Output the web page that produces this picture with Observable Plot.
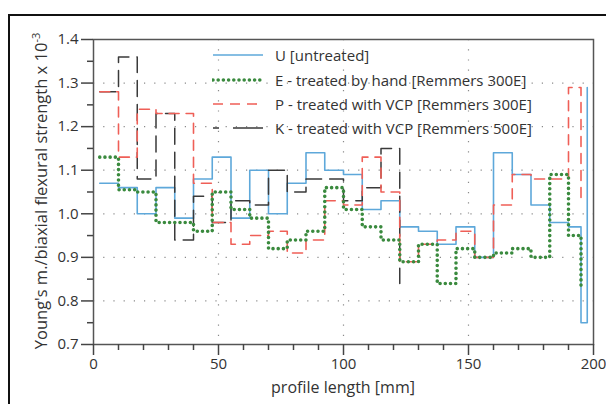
<!DOCTYPE html>
<html>
<head>
<meta charset="utf-8">
<script src="https://cdn.jsdelivr.net/npm/d3@7"></script>
<script src="https://cdn.jsdelivr.net/npm/@observablehq/plot@0.6"></script>
<style>
  html, body { margin: 0; padding: 0; background: #fff; }
  #wrap { position: relative; width: 606px; height: 404px; overflow: hidden; font-family: "Open Sans", sans-serif; color: #333; }
  #frame { position: absolute; left: 8px; top: 14px; width: 620px; height: 420px; border-left: 2px solid #111; border-top: 2px solid #111; }
  #chart { position: absolute; left: 0; top: 0; }
  #ylabel { position: absolute; left: 40px; top: 191px; transform: translate(-50%, -50%) rotate(-90deg); white-space: nowrap; font-size: 16.5px; line-height: 1; color: #333; }
  #ylabel sup { font-size: 11px; vertical-align: 7px; }
  #xlabel { position: absolute; left: 343px; top: 378px; transform: translateX(-50%); white-space: nowrap; font-size: 16px; line-height: 1.2; color: #333; }
  .lg { position: absolute; left: 212px; height: 20px; display: flex; align-items: center; white-space: nowrap; font-size: 15px; color: #333; }
  .lg svg { width: 52px; height: 10px; margin-right: 11px; }
</style>
</head>
<body>
<div id="wrap">
  <div id="frame"></div>
  <div id="chart"></div>
  <div id="ylabel">Young's m./biaxial flexural strength x 10<sup>-3</sup></div>
  <div id="xlabel">profile length [mm]</div>
  <div id="legend"></div>
</div>
<script>
// bin start positions along the profile [mm]
const binStart = [2.5, 10, 17.5, 25, 32.5, 40, 47.5, 55, 62.5, 70, 77.5, 85, 92.5, 100, 107.5, 115, 122.5, 130, 137.5, 145, 152.5, 160, 167.5, 175, 182.5, 190, 195, 197.5];

// U [untreated]
const valuesU = [1.07, 1.06, 1.00, 1.06, 0.99, 1.08, 1.13, 0.99, 1.10, 1.00, 1.07, 1.14, 1.10, 1.09, 1.01, 1.03, 0.97, 0.96, 0.93, 0.97, 0.90, 1.14, 1.09, 1.02, 0.98, 0.97, 0.75, 1.29];
// E - treated by hand
const valuesE = [1.13, 1.055, 1.05, 0.98, 0.98, 0.96, 1.05, 1.01, 0.99, 0.92, 0.94, 0.96, 1.06, 1.01, 0.97, 0.94, 0.89, 0.93, 0.84, 0.92, 0.90, 0.91, 0.92, 0.90, 1.09, 0.95, 0.83];
// P - treated with VCP [Remmers 300E]
const valuesP = [1.28, 1.13, 1.24, 1.23, 1.23, 1.07, 0.98, 0.93, 0.95, 0.96, 0.91, 0.94, 1.03, 1.02, 1.13, 1.05, 0.89, 0.93, 0.94, 0.96, 0.90, 1.02, 1.09, 1.08, 1.08, 1.29, 1.03];
// K - treated with VCP [Remmers 500E]
const valuesK = [1.28, 1.36, 1.08, 1.23, 0.94, 1.04, 0.98, 1.03, 1.02, 1.10, 1.05, 1.08, 1.08, 1.03, 1.06, 1.15, 0.84];

const seriesNames = ["U [untreated]", "E - treated by hand [Remmers 300E]", "P - treated with VCP [Remmers 300E]", "K - treated with VCP [Remmers 500E]"];

const xMajorTicks = [0, 50, 100, 150, 200];
const xMinorTicks = [10, 20, 30, 40, 60, 70, 80, 90, 110, 120, 130, 140, 160, 170, 180, 190];
const yMajorTicks = [0.7, 0.8, 0.9, 1.0, 1.1, 1.2, 1.3, 1.4];
const yMinorTicks = [0.75, 0.85, 0.95, 1.05, 1.15, 1.25, 1.35];
const yGrid = [0.8, 0.9, 1.0, 1.1, 1.2, 1.3];
const xGrid = [50, 100, 150];

const styles = [
  {stroke: "#5ea8da", strokeWidth: 1.6},
  {stroke: "#3a8a3e", strokeWidth: 3.6, strokeDasharray: "0 5.2", strokeLinecap: "round"},
  {stroke: "#ef5f57", strokeWidth: 1.6, strokeDasharray: "10 7"},
  {stroke: "#3a3a3a", strokeWidth: 1.5, strokeDasharray: "16 8"}
];

const toPts = (vals) => vals.map((v, i) => ({x: binStart[i], y: v}));
const data = [toPts(valuesU), toPts(valuesE), toPts(valuesP), toPts(valuesK)];
const order = [0, 3, 2, 1];

const plot = Plot.plot({
  width: 606,
  height: 404,
  marginLeft: 93,
  marginRight: 13,
  marginTop: 39,
  marginBottom: 60,
  x: {domain: [0, 200]},
  y: {domain: [0.7, 1.4]},
  style: {fontFamily: "Open Sans, sans-serif", fontSize: "15px", color: "#333", background: "transparent"},
  marks: [
    Plot.ruleY(yGrid, {stroke: "#8a8a8a", strokeWidth: 1.2, strokeDasharray: "1.2 9"}),
    Plot.ruleX(xGrid, {stroke: "#8a8a8a", strokeWidth: 1.2, strokeDasharray: "1.2 9"}),
    ...order.map(i => Plot.line(data[i], {x: "x", y: "y", curve: "step-after", ...styles[i]})),
    Plot.frame({stroke: "#555", strokeWidth: 1.5}),
    Plot.axisX(xMajorTicks, {tickSize: 11, tickPadding: 3, fontSize: 15, label: null, stroke: "#444", strokeWidth: 1.5}),
    Plot.axisX(xMinorTicks, {tickSize: 6, tickFormat: () => "", label: null, stroke: "#444", strokeWidth: 1.5}),
    Plot.axisY(yMajorTicks, {tickSize: 12, tickPadding: 3, fontSize: 15, tickFormat: d3.format(".1f"), label: null, stroke: "#444", strokeWidth: 1.5}),
    Plot.axisY(yMinorTicks, {tickSize: 6, tickFormat: () => "", label: null, stroke: "#444", strokeWidth: 1.5})
  ]
});
document.getElementById("chart").appendChild(plot);

// legend
const legendTops = [45, 70, 94, 118];
const legend = document.getElementById("legend");
seriesNames.forEach((name, i) => {
  const row = document.createElement("div");
  row.className = "lg";
  row.style.top = legendTops[i] + "px";
  const s = styles[i];
  row.innerHTML = `<svg viewBox="0 0 52 10"><line x1="1" y1="5" x2="51" y2="5" stroke="${s.stroke}" stroke-width="${s.strokeWidth}" ${s.strokeDasharray ? `stroke-dasharray="${i === 3 ? "6 14 30 0" : s.strokeDasharray}"` : ""} ${s.strokeLinecap ? `stroke-linecap="${s.strokeLinecap}"` : ""}/></svg><span>${name}</span>`;
  legend.appendChild(row);
});
</script>
</body>
</html>
